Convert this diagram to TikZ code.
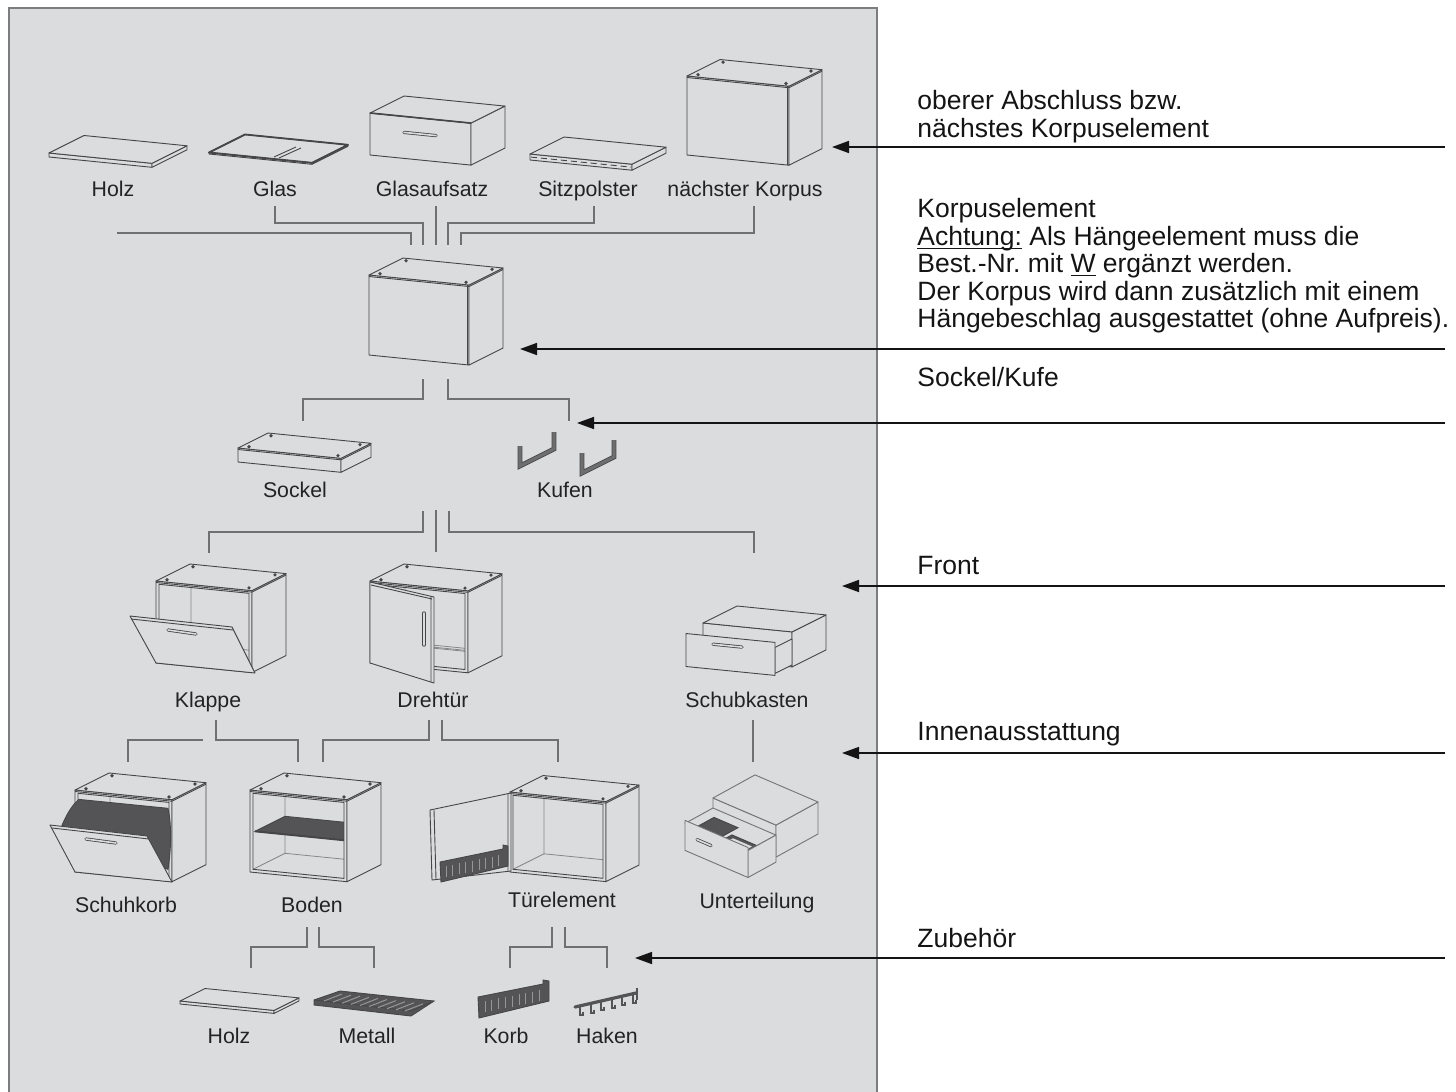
\documentclass[tikz,border=0pt]{standalone}
\usepackage{fontspec}
\setmainfont{Liberation Sans}
\usepackage{tikz}
\usetikzlibrary{shapes,arrows.meta,positioning,calc}
\frenchspacing
\definecolor{color0}{RGB}{219,220,222}
\definecolor{color1}{RGB}{125,125,127}
\definecolor{color2}{RGB}{112,112,114}
\definecolor{color3}{RGB}{70,70,72}
\definecolor{color4}{RGB}{84,84,86}
\definecolor{color5}{RGB}{35,35,35}
\definecolor{color6}{RGB}{150,150,152}
\definecolor{color7}{RGB}{20,20,20}
\newcommand\noteUl[1]{\underline{\smash{#1}}}
\tikzstyle{itemLabel} = [font=\fontsize{10.65}{12}\selectfont, text=color5, text height=7.6pt, text depth=0pt, inner xsep=0pt, inner ysep=4.5pt]
\tikzstyle{noteText} = [font=\fontsize{13.25}{13.75}\selectfont, text=color7, align=left, anchor=north west, inner sep=0pt]
\tikzstyle{linkLine} = [draw=color2, line width=0.7pt]
\tikzstyle{pointerArrow} = [draw=color7, line width=0.8pt, -{Triangle[length=8.5pt,width=6pt]}]
\tikzstyle{edgeLine} = [draw=color3, line width=0.45pt, line join=round]
\tikzstyle{innerLine} = [draw=color3!65, line width=0.4pt]
\tikzstyle{darkPart} = [fill=color4, draw=color3, line width=0.45pt]
\tikzstyle{handleLine} = [draw=color3, double=color0, double distance=0.8pt, line width=0.4pt, line cap=round]
\tikzstyle{slitLine} = [draw=color6, line width=0.5pt]
\tikzstyle{kufeLine} = [draw=color3, double=color4!85, double distance=1.6pt, line width=0.4pt]
\tikzset{
  iso/.style={x={(0.5pt,-0.05pt)}, y={(0pt,0.5pt)}, z={(0.5pt,0.25pt)}},
  pics/kasten/.style args={#1/#2/#3}{code={
    \begin{scope}[iso]
      \draw[edgeLine, fill=color0] (0,0,0) -- (#1,0,0) -- (#1,#2,0) -- (0,#2,0) -- cycle;
      \draw[edgeLine, fill=color0] (#1,0,0) -- (#1,0,#3) -- (#1,#2,#3) -- (#1,#2,0) -- cycle;
      \draw[edgeLine, fill=color0] (0,#2,0) -- (#1,#2,0) -- (#1,#2,#3) -- (0,#2,#3) -- cycle;
    \end{scope}}},
  pics/loecher/.style args={#1/#2/#3}{code={
    \begin{scope}[iso]
      \fill[color3] (7,#2,4) circle (0.9pt) (#1-7,#2,4) circle (0.9pt) (7,#2,#3-4) circle (0.9pt) (#1-7,#2,#3-4) circle (0.9pt);
      \draw[edgeLine] (0,#2-1.5,0) -- (#1,#2-1.5,0) -- (#1,#2-1.5,#3);
    \end{scope}}},
  pics/korpus/.style args={#1/#2/#3}{code={
    \pic {kasten=#1/#2/#3};
    \pic {loecher=#1/#2/#3};
    \begin{scope}[iso]
      \draw[edgeLine] (#1-2,0,0) -- (#1-2,#2,0);
    \end{scope}}},
  pics/innen/.style args={#1/#2/#3}{code={
    \begin{scope}[iso]
      \fill[color0] (0,0,0) -- (#1,0,0) -- (#1,#2,0) -- (0,#2,0) -- cycle;
      \draw[innerLine] (3,3,#3-2) -- (#1-3,3,#3-2) -- (#1-3,#2-3,#3-2) -- (3,#2-3,#3-2) -- cycle
        (3,3,0) -- (3,3,#3-2) (3,#2-3,0) -- (3,#2-3,#3-2)
        (#1-3,#2-3,0) -- (#1-3,#2-3,#3-2) (#1-3,3,0) -- (#1-3,3,#3-2);
    \end{scope}}},
  pics/huelle/.style args={#1/#2/#3}{code={
    \begin{scope}[iso]
      \draw[edgeLine, fill=color0, even odd rule] (0,0,0) -- (#1,0,0) -- (#1,#2,0) -- (0,#2,0) -- cycle
        (3,3,0) -- (#1-3,3,0) -- (#1-3,#2-3,0) -- (3,#2-3,0) -- cycle;
      \draw[edgeLine, fill=color0] (#1,0,0) -- (#1,0,#3) -- (#1,#2,#3) -- (#1,#2,0) -- cycle;
      \draw[edgeLine, fill=color0] (0,#2,0) -- (#1,#2,0) -- (#1,#2,#3) -- (0,#2,#3) -- cycle;
    \end{scope}
    \pic {loecher=#1/#2/#3};}}
}

\begin{document}
\begin{tikzpicture}[x=0.5pt, y=-0.5pt]
	\useasboundingbox (0,0) rectangle (1456,1092);
	\draw[draw=color1, line width=1pt, fill=color0] (9,8) rectangle (877,1110);

	% obere Reihe
	\pic at (49,157) {kasten=103/4/35};
	\pic at (209,154) {kasten=103/1.5/36};
	\begin{scope}[shift={(209,154)}, iso]
		\draw[draw=color3, line width=0.9pt, line join=round] (0,1.5,0) -- (103,1.5,0) -- (103,1.5,36) -- (0,1.5,36) -- cycle;
	\end{scope}
	\draw[edgeLine] (274,157) -- (296,147) (279,158) -- (301,148);
	\pic at (370,155) {kasten=101/42/34};
	\begin{scope}[shift={(370,155)}, iso]
		\draw[edgeLine, line width=0.8pt] (0,42,0) -- (101,42,0);
		\draw[handleLine] (34,26,0) -- (66,26,0);
	\end{scope}
	\pic at (530,160) {kasten=102/6/34};
	\begin{scope}[shift={(530,160)}, iso]
		\draw[edgeLine, densely dashed] (1,3,0) -- (101,3,0);
	\end{scope}
	\pic at (687,155) {korpus=102/79/33};

	\node[itemLabel] (Label-Holz) at (113,189) {Holz};
	\node[itemLabel] at ([xshift=81pt]Label-Holz.center) (Label-Glas) {Glas};
	\node[itemLabel] at ([xshift=78.5pt]Label-Glas.center) (Label-Glasaufsatz) {Glasaufsatz};
	\node[itemLabel] at ([xshift=78pt]Label-Glasaufsatz.center) (Label-Sitzpolster) {Sitzpolster};
	\node[itemLabel] at ([xshift=78.5pt]Label-Sitzpolster.center) (Label-Korpus2) {nächster Korpus};

	\draw[linkLine] (117,233) -- (411,233) -- (411,245);
	\draw[linkLine] (Label-Glas.south) |- (423,223) -- (423,245);
	\draw[linkLine] ([xshift=2pt]Label-Glasaufsatz.south) -- (436,245);
	\draw[linkLine] ([xshift=3pt]Label-Sitzpolster.south) |- (448,223) -- (448,245);
	\draw[linkLine] ([xshift=4.5pt]Label-Korpus2.south) |- (461,233) -- (461,245);

	% Korpus
	\pic at (369,355) {korpus=100/80/34};
	\draw[linkLine] (423,379) |- (303,399) -- (303,421);
	\draw[linkLine] (448,379) |- (569,399) -- (569,421);

	% Sockel und Kufen
	\pic at (238,462) {kasten=103/14/30};
	\pic at (238,462) {loecher=103/14/30};
	\draw[kufeLine] (520,446) -- (520,466) -- (554,449) -- (554,432);
	\draw[kufeLine] (582,453) -- (582,473) -- (614,457) -- (614,440);
	\node[itemLabel] (Label-Sockel) at (295,490) {Sockel};
	\node[itemLabel] at ([xshift=135pt]Label-Sockel.center) (Label-Kufen) {Kufen};

	\draw[linkLine] (423,511) |- (209,532) -- (209,553);
	\draw[linkLine] (436,510) -- (436,552);
	\draw[linkLine] (449,511) |- (754,532) -- (754,553);

	% Front
	\pic at (156,663) {innen=96/82/34};
	\pic at (156,663) {huelle=96/82/34};
	\draw[edgeLine, fill=color0] (130,616) -- (232,627) -- (255,673) -- (156,663) -- cycle;
	\draw[edgeLine] (131,619) -- (233,630);
	\draw[handleLine] (168,630) -- (196,634);

	\pic at (370,663) {innen=98/82/34};
	\begin{scope}[shift={(370,663)}, iso]
		\draw[innerLine] (3,20,2) -- (95,20,2) (3,23,2) -- (95,23,2);
	\end{scope}
	\pic at (370,663) {huelle=98/82/34};
	\draw[edgeLine, fill=color0] (370,663) -- (370,582) -- (434,597) -- (434,683) -- cycle;
	\draw[edgeLine] (431,596) -- (431,682) (371,585) -- (432,599);
	\draw[handleLine] (424,613) -- (424,645);

	\pic at (703,658) {kasten=89/35/34};
	\begin{scope}[shift={(703,658)}, iso]
		\draw[edgeLine, fill=color0] (89,2,-17) -- (89,2,0) -- (89,28,0) -- (89,28,-17) -- cycle;
		\draw[edgeLine, fill=color0] (0,0,-17) -- (89,0,-17) -- (89,33,-17) -- (0,33,-17) -- cycle;
		\draw[handleLine] (27,25,-17) -- (56,25,-17);
	\end{scope}

	\node[itemLabel] (Label-Klappe) at (208,700) {Klappe};
	\node[itemLabel] at ([xshift=112.5pt]Label-Klappe.center) (Label-Drehtuer) {Drehtür};
	\node[itemLabel] at ([xshift=157pt]Label-Drehtuer.center) (Label-Schubkasten) {Schubkasten};

	\draw[linkLine] (203,740) -| (128,762);
	\draw[linkLine] ([xshift=4pt,yshift=-1.5pt]Label-Klappe.south) |- (298,740) -- (298,762);
	\draw[linkLine] ([xshift=-2pt,yshift=-1.5pt]Label-Drehtuer.south) |- (323,740) -- (323,762);
	\draw[linkLine] ([xshift=4.5pt,yshift=-1.5pt]Label-Drehtuer.south) |- (558,740) -- (558,762);
	\draw[linkLine] ([xshift=3pt,yshift=-1.5pt]Label-Schubkasten.south) -- (753,762);

	% Innenausstattung
	\pic at (75,872) {innen=97/82/34};
	\pic at (75,872) {huelle=97/82/34};
	\begin{scope}[shift={(75,872)}, iso]
		\fill[darkPart] (10,59,-23) .. controls (5,68,-12) and (4,72,-4) .. (4,73,0) -- (93,73,0) .. controls (97,55,0) and (96,32,0) .. (93,12,0) -- (60,30,-12) -- cycle;
	\end{scope}
	\draw[edgeLine, fill=color0] (50,825) -- (147,836) -- (172,882) -- (75,872) -- cycle;
	\draw[edgeLine] (52,828) -- (149,839);
	\draw[handleLine] (86,839) -- (116,843);

	\pic at (250,872) {innen=97/82/34};
	\begin{scope}[shift={(250,872)}, iso]
		\draw[darkPart] (3,40,2) -- (94,40,2) -- (94,40,32) -- (3,40,32) -- cycle;
		\draw[draw=color3, line width=1pt] (3,40,2) -- (94,40,2);
	\end{scope}
	\pic at (250,872) {huelle=97/82/34};

	\pic at (510,872) {innen=96/80/33};
	\pic at (510,872) {huelle=96/80/33};
	\draw[edgeLine, fill=color0] (430,810) -- (511,793) -- (511,871) -- (432,880) -- cycle;
	\draw[edgeLine] (434,810) -- (436,879) (508,794) -- (508,871);
	\fill[darkPart] (440,862) -- (503,849) -- (503,845) -- (508,846) -- (508,866) -- (441,882) -- cycle;
	\foreach \i in {0,...,8}
		\draw[slitLine] ({446+6.6*\i},{866-1.35*\i}) -- ++(0,11);

	\begin{scope}[iso/.style={x={(0.5pt,-0.215pt)}, y={(0pt,0.5pt)}, z={(0.5pt,0.275pt)}}, edgeLine/.append style={draw=color3!75}]
		\pic at (713,830) {kasten=63/32/42};
		\begin{scope}[shift={(713,830)}, iso]
			\draw[edgeLine, fill=color0] (0,22,-28) -- (63,22,-28) -- (63,22,0) -- (0,22,0) -- cycle;
			\fill[darkPart] (4,16,-25) -- (28,16,-25) -- (28,16,-3) -- (4,16,-3) -- cycle;
			\fill[darkPart] (32,16,-25) -- (59,16,-25) -- (59,16,-13) -- (32,16,-13) -- cycle;
			\fill[color0] (36,16,-22) -- (55,16,-22) -- (55,16,-16) -- (36,16,-16) -- cycle;
			\draw[edgeLine, fill=color0] (63,-5,-28) -- (63,-5,0) -- (63,22,0) -- (63,22,-28) -- cycle;
			\draw[edgeLine, fill=color0] (0,-5,-28) -- (63,-5,-28) -- (63,25,-28) -- (0,25,-28) -- cycle;
			\draw[handleLine] (12,11,-28) -- (26,11,-28);
		\end{scope}
	\end{scope}

	\node[itemLabel] (Label-Schuhkorb) at (126,905) {Schuhkorb};
	\node[itemLabel] at ([xshift=93pt]Label-Schuhkorb.center) (Label-Boden) {Boden};
	\node[itemLabel] (Label-Tuerelement) at (562,900) {Türelement};
	\node[itemLabel] (Label-Unterteilung) at (757,901) {Unterteilung};

	\draw[linkLine] ([xshift=-2.5pt,yshift=-2.5pt]Label-Boden.south) |- (251,947) -- (251,968);
	\draw[linkLine] ([xshift=3.5pt,yshift=-2.5pt]Label-Boden.south) |- (374,947) -- (374,968);
	\draw[linkLine] ([xshift=-5pt,yshift=-5pt]Label-Tuerelement.south) |- (510,947) -- (510,968);
	\draw[linkLine] ([xshift=1.5pt,yshift=-5pt]Label-Tuerelement.south) |- (607,947) -- (607,968);

	% Zubehoer
	\pic at (180,1004) {kasten=94/3/25};
	\fill[darkPart] (314,1000) -- (340,991) -- (434,1001) -- (411,1016) -- (314,1005) -- cycle;
	\draw[edgeLine] (314,1000) -- (411,1011) -- (434,1001);
	\foreach \i in {0,...,9}
		\draw[slitLine] ({324+9*\i},{1001+1.1*\i}) -- ++(18,-7);
	\fill[darkPart] (478,997) -- (543,984) -- (543,980) -- (549,981) -- (549,1001) -- (479,1018) -- cycle;
	\foreach \i in {0,...,8}
		\draw[slitLine] ({485+6.8*\i},{1001-1.35*\i}) -- ++(0,11);
	\draw[draw=color4, line width=1.6pt, line cap=round] (575,1007) -- (636,993);
	\draw[draw=color4, line width=1.2pt] (637,988) -- (637,1000);
	\foreach \i in {0,...,5}
		\draw[draw=color4, line width=1pt] ({580+10.5*\i},{1006-2.4*\i}) -- ++(0,9) -- ++(3,0) -- ++(0,-3);

	\node[itemLabel] (Label-Holz2) at (229,1036) {Holz};
	\node[itemLabel] at ([xshift=69pt]Label-Holz2.center) (Label-Metall) {Metall};
	\node[itemLabel] at ([xshift=69.5pt]Label-Metall.center) (Label-Korb) {Korb};
	\node[itemLabel] at ([xshift=50.5pt]Label-Korb.center) (Label-Haken) {Haken};

	% Hinweise rechts
	\node[noteText] (Note-Abschluss) at (917,90) {oberer Abschluss bzw.\\nächstes Korpuselement};
	\node[noteText] (Note-Korpus) at (917,198) {Korpuselement\\\noteUl{Achtung:} Als Hängeelement muss die\\Best.-Nr. mit \noteUl{W} ergänzt werden.\\Der Korpus wird dann zusätzlich mit einem\\Hängebeschlag ausgestattet (ohne Aufpreis).};
	\node[noteText] (Note-Sockel) at (917,367) {Sockel/Kufe};
	\node[noteText] (Note-Front) at (917,556) {Front};
	\node[noteText] (Note-Innen) at (917,722) {Innenausstattung};
	\node[noteText] (Note-Zubehoer) at (917,928) {Zubehör};

	\draw[pointerArrow] (1445,147) -- (832,147);
	\draw[pointerArrow] (1445,349) -- (520,349);
	\draw[pointerArrow] (1445,423) -- (577,423);
	\draw[pointerArrow] (1445,586) -- (842,586);
	\draw[pointerArrow] (1445,753) -- (842,753);
	\draw[pointerArrow] (1445,958) -- (635,958);

\end{tikzpicture}
\end{document}
